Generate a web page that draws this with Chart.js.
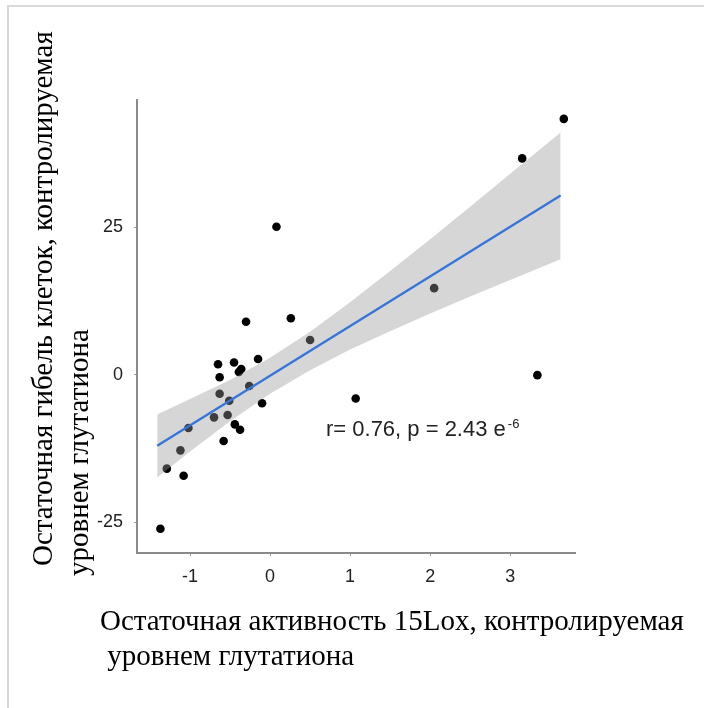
<!DOCTYPE html>
<html>
<head>
<meta charset="utf-8">
<script src="https://cdn.jsdelivr.net/npm/chart.js@4/dist/chart.umd.min.js"></script>
<style>
  html, body { margin: 0; padding: 0; background: #fff; }
  canvas { display: block; }
</style>
</head>
<body>
<canvas id="chart" width="704" height="708"></canvas>
<script>
// residual 15Lox activity (x) vs residual cell death (y)
const pointX = [-1.37, -1.29, -1.12, -1.08, -1.02, -0.70, -0.65, -0.63, -0.63, -0.58,
  -0.53, -0.51, -0.45, -0.44, -0.39, -0.36, -0.375, -0.30, -0.26, -0.15,
  -0.10, 0.08, 0.26, 0.50, 1.07, 2.05, 3.15, 3.34, 3.67];
const pointY = [-26.1, -15.9, -12.8, -17.1, -9.0, -7.2, 1.8, -0.4, -3.2, -11.2,
  -6.8, -4.4, 2.1, -8.4, 0.5, 1.0, -9.3, 9.0, -1.9, 2.7,
  -4.8, 25.1, 9.6, 5.9, -4.0, 14.7, 36.7, -0.05, 43.4];

// fitted line and its grey confidence band
const fitX = [-1.41, 3.63];
const fitY = [-12.0, 30.4];
const bandX = [-1.41, -1, -0.5, 0, 0.5, 1, 1.5, 2, 2.5, 3, 3.63];
const bandUpper = [-6.7, -4.1, -0.85, 2.9, 7.3, 12.3, 17.6, 23.0, 28.5, 34.1, 41.1];
const bandLower = [-17.4, -13.0, -7.85, -3.2, 0.8, 4.3, 7.4, 10.4, 13.3, 16.1, 19.6];

const xTicks = [-1, 0, 1, 2, 3];
const yTicks = [-25, 0, 25];

const xTitle = ["Остаточная активность 15Lox, контролируемая", " уровнем глутатиона"];
const yTitle = ["Остаточная гибель клеток, контролируемая", "уровнем глутатиона"];
const statText = "r= 0.76, p = 2.43 e";
const statExp = "-6";

function pairs(xs, ys) {
  return xs.map((x, i) => ({ x: x, y: ys[i] }));
}

const extras = {
  id: "extras",
  afterDraw(chart) {
    const c = chart.ctx;
    c.save();
    // light frame at the top and left edge
    c.strokeStyle = "#d9d9d9";
    c.lineWidth = 2;
    c.beginPath();
    c.moveTo(8, 712);
    c.lineTo(8, 6);
    c.lineTo(710, 6);
    c.stroke();

    c.fillStyle = "#000";
    c.font = "29px 'Liberation Serif'";
    c.textBaseline = "alphabetic";
    c.textAlign = "left";
    c.fillText(xTitle[0], 100, 630);
    c.fillText(xTitle[1], 100, 665);

    c.save();
    c.translate(52, 566);
    c.rotate(-Math.PI / 2);
    c.fillText(yTitle[0], 0, 0);
    c.restore();
    c.save();
    c.translate(88, 576);
    c.rotate(-Math.PI / 2);
    c.fillText(yTitle[1], 0, 0);
    c.restore();

    // correlation label
    c.fillStyle = "#222";
    c.font = "22px 'Liberation Sans'";
    c.fillText(statText, 326, 436);
    const w = c.measureText(statText).width;
    c.font = "13px 'Liberation Sans'";
    c.fillText(statExp, 326 + w + 2, 428);
    c.restore();
  }
};

let ctx = document.getElementById("chart").getContext("2d");
const chart = new Chart(ctx, {
  type: "scatter",
  data: {
    datasets: [
      {
        data: pairs(pointX, pointY),
        backgroundColor: "#000",
        borderWidth: 0,
        pointRadius: 4.3,
        order: 3
      },
      {
        type: "line",
        data: pairs(bandX, bandUpper),
        borderColor: "rgba(0,0,0,0)",
        pointRadius: 0,
        fill: "+1",
        backgroundColor: "rgba(153,153,153,0.4)",
        order: 2
      },
      {
        type: "line",
        data: pairs(bandX, bandLower),
        borderColor: "rgba(0,0,0,0)",
        pointRadius: 0,
        fill: false,
        order: 2
      },
      {
        type: "line",
        data: pairs(fitX, fitY),
        borderColor: "#3575db",
        borderWidth: 2.3,
        pointRadius: 0,
        fill: false,
        order: 1
      }
    ]
  },
  options: {
    responsive: false,
    animation: false,
    layout: { padding: { left: 87, right: 129, top: 100, bottom: 115 } },
    plugins: { legend: { display: false }, tooltip: { enabled: false } },
    scales: {
      x: {
        type: "linear",
        min: -1.6625,
        max: 3.81,
        afterBuildTicks: s => { s.ticks = xTicks.map(v => ({ value: v })); },
        afterFit: s => { s.height = 40; },
        grid: { drawOnChartArea: false, tickLength: 3, color: "#999" },
        border: { color: "#8a8a8a", width: 2 },
        ticks: { color: "#222", padding: 10, font: { family: "Liberation Sans", size: 18 } }
      },
      y: {
        type: "linear",
        min: -30.2,
        max: 46.6,
        afterBuildTicks: s => { s.ticks = yTicks.map(v => ({ value: v })); },
        afterFit: s => { s.width = 50; },
        grid: { drawOnChartArea: false, tickLength: 3, color: "#999" },
        border: { color: "#8a8a8a", width: 2 },
        ticks: { color: "#222", padding: 11, font: { family: "Liberation Sans", size: 18 } }
      }
    }
  },
  plugins: [extras]
});
</script>
</body>
</html>
